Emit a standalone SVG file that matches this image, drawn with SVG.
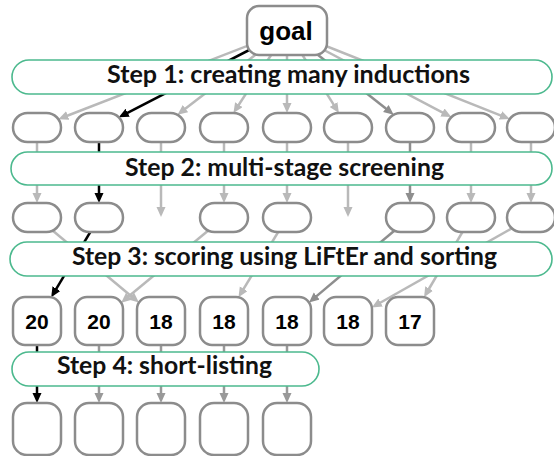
<svg xmlns="http://www.w3.org/2000/svg" width="554" height="456" viewBox="0 0 554 456">
<style>
.n{fill:#fff;stroke:#8c8c8c;stroke-width:2.5}
.b{fill:#fff;stroke:#4cb98e;stroke-width:1.6}
.bt{font-family:Lato,"Liberation Sans",sans-serif;font-weight:bold;font-size:24px;text-anchor:middle;fill:#111}
.nt{font-family:"Liberation Sans",Arial,sans-serif;font-weight:bold;font-size:21px;text-anchor:middle;fill:#000}
.e{fill:none;stroke-width:2.5}
.l{stroke:#b9b9b9;marker-end:url(#aL)}
.d{stroke:#8e8e8e;marker-end:url(#aD)}
.m{stroke:#999;marker-end:url(#aM)}
.k{stroke:#000;marker-end:url(#aK)}
</style>
<defs>
<marker id="aL" markerUnits="userSpaceOnUse" markerWidth="11" markerHeight="10" refX="4" refY="4.5" orient="auto"><path d="M0,0 L10,4.5 L0,9 z" fill="#b9b9b9"/></marker>
<marker id="aD" markerUnits="userSpaceOnUse" markerWidth="11" markerHeight="10" refX="4" refY="4.5" orient="auto"><path d="M0,0 L10,4.5 L0,9 z" fill="#8e8e8e"/></marker>
<marker id="aM" markerUnits="userSpaceOnUse" markerWidth="11" markerHeight="10" refX="4" refY="4.5" orient="auto"><path d="M0,0 L10,4.5 L0,9 z" fill="#999"/></marker>
<marker id="aK" markerUnits="userSpaceOnUse" markerWidth="11" markerHeight="10" refX="4" refY="4.5" orient="auto"><path d="M0,0 L10,4.5 L0,9 z" fill="#000"/></marker>
</defs>

<g id="connectors">
  <!-- goal to step 1 outputs -->
  <path class="e l" d="M287,30.5 L64,117"/>
  <path class="e l" d="M287,30.5 L182.3,111.1"/>
  <path class="e l" d="M287,30.5 L236.7,108"/>
  <path class="e l" d="M287,30.5 L287,107"/>
  <path class="e l" d="M287,30.5 L335.7,107.9"/>
  <path class="e l" d="M287,30.5 L446,114.3"/>
  <path class="e l" d="M287,30.5 L504.2,116.8"/>
  <path class="e d" d="M287,30.5 L389,111"/>
  <path class="e k" d="M287,30.5 L124.1,114.6"/>
  <!-- step 2 screening -->
  <path class="e l" d="M37,142 L37,197"/>
  <path class="e l" d="M161,142 L161,211"/>
  <path class="e l" d="M224,142 L224,197"/>
  <path class="e l" d="M287,142 L287,197"/>
  <path class="e l" d="M348,142 L348,211"/>
  <path class="e l" d="M471,142 L471,197"/>
  <path class="e l" d="M531,142 L531,197"/>
  <path class="e d" d="M410,142 L410,197"/>
  <path class="e k" d="M99,142 L99,197"/>
  <!-- step 3 scoring and sorting -->
  <path class="e l" d="M224,217.5 L125.8,298.8"/>
  <path class="e l" d="M37,217.5 L134.3,298.7"/>
  <path class="e l" d="M287,217.5 L241.6,292.2"/>
  <path class="e l" d="M471,217.5 L427.1,292"/>
  <path class="e l" d="M531,217.5 L377.1,304.5"/>
  <path class="e d" d="M410,217.5 L313.6,298.6"/>
  <path class="e k" d="M99,217.5 L54.3,292.1"/>
  <!-- step 4 short-listing -->
  <path class="e m" d="M99,345 L99,397"/>
  <path class="e m" d="M161,345 L161,397"/>
  <path class="e m" d="M224,345 L224,397"/>
  <path class="e m" d="M287,345 L287,397"/>
  <path class="e k" d="M37,345 L37,397"/>
</g>

<g id="step1"><rect class="b" x="12" y="60" width="540" height="34" rx="17"/><text class="bt" x="288.5" y="82.5" textLength="363" lengthAdjust="spacingAndGlyphs">Step 1: creating many inductions</text></g>
<g id="step2"><rect class="b" x="11" y="152" width="541" height="33" rx="16.5"/><text class="bt" x="284.5" y="175.5" textLength="319" lengthAdjust="spacingAndGlyphs">Step 2: multi-stage screening</text></g>
<g id="step3"><rect class="b" x="10" y="242" width="542" height="34" rx="17"/><text class="bt" x="284.5" y="265" textLength="425" lengthAdjust="spacingAndGlyphs">Step 3: scoring using LiFtEr and sorting</text></g>
<g id="step4"><rect class="b" x="12" y="352" width="307" height="34" rx="17"/><text class="bt" x="164.5" y="374" textLength="215" lengthAdjust="spacingAndGlyphs">Step 4: short-listing</text></g>

<g id="goal"><rect class="n" x="247" y="6" width="80" height="49" rx="12"/><text class="nt" x="286" y="39.5" style="font-size:26px">goal</text></g>

<g id="r1n0"><rect class="n" x="13" y="113" width="48" height="29" rx="14.5"/></g>
<g id="r1n1"><rect class="n" x="75" y="113" width="48" height="29" rx="14.5"/></g>
<g id="r1n2"><rect class="n" x="137" y="113" width="48" height="29" rx="14.5"/></g>
<g id="r1n3"><rect class="n" x="200" y="113" width="48" height="29" rx="14.5"/></g>
<g id="r1n4"><rect class="n" x="263" y="113" width="48" height="29" rx="14.5"/></g>
<g id="r1n5"><rect class="n" x="324" y="113" width="48" height="29" rx="14.5"/></g>
<g id="r1n6"><rect class="n" x="386" y="113" width="48" height="29" rx="14.5"/></g>
<g id="r1n7"><rect class="n" x="447" y="113" width="48" height="29" rx="14.5"/></g>
<g id="r1n8"><rect class="n" x="507" y="113" width="48" height="29" rx="14.5"/></g>

<g id="r2n0"><rect class="n" x="13" y="203" width="48" height="29" rx="14.5"/></g>
<g id="r2n1"><rect class="n" x="75" y="203" width="48" height="29" rx="14.5"/></g>
<g id="r2n3"><rect class="n" x="200" y="203" width="48" height="29" rx="14.5"/></g>
<g id="r2n4"><rect class="n" x="263" y="203" width="48" height="29" rx="14.5"/></g>
<g id="r2n6"><rect class="n" x="386" y="203" width="48" height="29" rx="14.5"/></g>
<g id="r2n7"><rect class="n" x="447" y="203" width="48" height="29" rx="14.5"/></g>
<g id="r2n8"><rect class="n" x="507" y="203" width="48" height="29" rx="14.5"/></g>

<g id="s0"><rect class="n" x="13" y="297" width="48" height="48" rx="12"/><text class="nt" x="37" y="328.5">20</text></g>
<g id="s1"><rect class="n" x="75" y="297" width="48" height="48" rx="12"/><text class="nt" x="99" y="328.5">20</text></g>
<g id="s2"><rect class="n" x="137" y="297" width="48" height="48" rx="12"/><text class="nt" x="161" y="328.5">18</text></g>
<g id="s3"><rect class="n" x="200" y="297" width="48" height="48" rx="12"/><text class="nt" x="224" y="328.5">18</text></g>
<g id="s4"><rect class="n" x="263" y="297" width="48" height="48" rx="12"/><text class="nt" x="287" y="328.5">18</text></g>
<g id="s5"><rect class="n" x="324" y="297" width="48" height="48" rx="12"/><text class="nt" x="348" y="328.5">18</text></g>
<g id="s6"><rect class="n" x="386" y="297" width="48" height="48" rx="12"/><text class="nt" x="410" y="328.5">17</text></g>

<g id="f0"><rect class="n" x="13" y="403" width="48" height="52" rx="14"/></g>
<g id="f1"><rect class="n" x="75" y="403" width="48" height="52" rx="14"/></g>
<g id="f2"><rect class="n" x="137" y="403" width="48" height="52" rx="14"/></g>
<g id="f3"><rect class="n" x="200" y="403" width="48" height="52" rx="14"/></g>
<g id="f4"><rect class="n" x="263" y="403" width="48" height="52" rx="14"/></g>
</svg>
